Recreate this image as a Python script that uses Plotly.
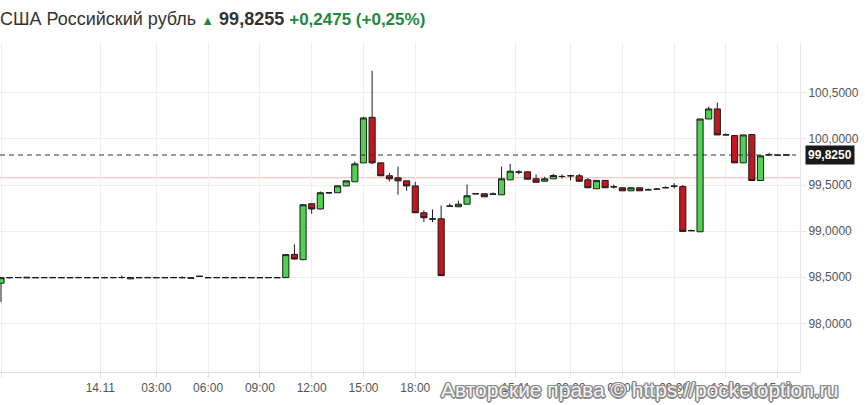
import pandas as pd
import plotly.graph_objects as go

# ---- data (USD/RUB, 30-minute candles starting 13.11 18:00) ----
start_time = "2024-11-13 18:00"
opens = [98.435, 98.495, 98.495, 98.500, 98.495, 98.495, 98.496, 98.495, 98.495, 98.495,
         98.496, 98.495, 98.495, 98.495, 98.496, 98.482, 98.495, 98.495, 98.496, 98.495,
         98.495, 98.496, 98.494, 98.510, 98.495, 98.495, 98.496, 98.495, 98.495, 98.496,
         98.495, 98.495, 98.496, 98.496, 98.748, 98.690, 99.297, 99.240, 99.415, 99.416,
         99.490, 99.535, 99.740, 100.234, 99.740, 99.600, 99.578, 99.545, 99.490, 99.199,
         99.130, 99.134, 99.270, 99.264, 99.292, 99.405, 99.405, 99.400, 99.394, 99.556,
         99.639, 99.643, 99.567, 99.541, 99.567, 99.592, 99.600, 99.600, 99.556, 99.459,
         99.550, 99.480, 99.470, 99.437, 99.470, 99.448, 99.455, 99.470, 99.487, 99.484,
         99.004, 98.993, 100.216, 100.325, 100.043, 100.036, 99.740, 100.047, 99.549, 99.827,
         99.822, 99.825]
highs = [98.500, 98.500, 98.502, 98.502, 98.498, 98.500, 98.505, 98.498, 98.500, 98.505,
         98.500, 98.500, 98.505, 98.500, 98.520, 98.500, 98.500, 98.505, 98.500, 98.500,
         98.505, 98.510, 98.497, 98.512, 98.500, 98.500, 98.505, 98.500, 98.505, 98.500,
         98.500, 98.502, 98.500, 98.750, 98.856, 99.290, 99.300, 99.430, 99.420, 99.495,
         99.548, 99.754, 100.240, 100.739, 99.742, 99.632, 99.700, 99.547, 99.535, 99.224,
         99.235, 99.278, 99.300, 99.330, 99.505, 99.410, 99.407, 99.420, 99.700, 99.730,
         99.660, 99.645, 99.614, 99.590, 99.620, 99.615, 99.610, 99.620, 99.575, 99.552,
         99.552, 99.505, 99.472, 99.472, 99.472, 99.462, 99.468, 99.485, 99.520, 99.500,
         99.016, 100.216, 100.350, 100.393, 100.060, 100.038, 100.045, 100.049, 99.818, 99.850,
         99.832, 99.830]
lows = [98.230, 98.490, 98.492, 98.492, 98.492, 98.492, 98.492, 98.492, 98.492, 98.492,
        98.492, 98.492, 98.490, 98.492, 98.485, 98.480, 98.492, 98.490, 98.492, 98.492,
        98.492, 98.494, 98.488, 98.508, 98.492, 98.490, 98.492, 98.492, 98.492, 98.492,
        98.492, 98.492, 98.490, 98.490, 98.690, 98.688, 99.188, 99.235, 99.410, 99.414,
        99.488, 99.533, 99.738, 99.726, 99.600, 99.538, 99.394, 99.437, 99.199, 99.098,
        99.098, 98.517, 99.268, 99.262, 99.290, 99.400, 99.370, 99.398, 99.392, 99.554,
        99.615, 99.561, 99.525, 99.539, 99.565, 99.570, 99.550, 99.541, 99.470, 99.457,
        99.470, 99.460, 99.437, 99.435, 99.437, 99.446, 99.453, 99.468, 99.462, 98.997,
        99.002, 98.991, 100.214, 100.043, 100.041, 99.740, 99.738, 99.549, 99.547, 99.822,
        99.820, 99.823]
closes = [98.495, 98.495, 98.497, 98.494, 98.495, 98.496, 98.495, 98.495, 98.495, 98.496,
          98.495, 98.495, 98.495, 98.496, 98.497, 98.497, 98.495, 98.496, 98.495, 98.495,
          98.496, 98.495, 98.490, 98.510, 98.495, 98.496, 98.495, 98.495, 98.496, 98.495,
          98.495, 98.496, 98.495, 98.745, 98.697, 99.286, 99.240, 99.416, 99.415, 99.491,
          99.545, 99.729, 100.227, 99.740, 99.600, 99.567, 99.545, 99.490, 99.199, 99.145,
          99.132, 98.517, 99.271, 99.292, 99.383, 99.405, 99.372, 99.402, 99.567, 99.650,
          99.640, 99.563, 99.530, 99.567, 99.603, 99.593, 99.600, 99.541, 99.470, 99.550,
          99.470, 99.481, 99.437, 99.470, 99.437, 99.448, 99.455, 99.471, 99.488, 98.997,
          99.005, 100.216, 100.325, 100.043, 100.044, 99.740, 100.043, 99.549, 99.816, 99.828,
          99.823, 99.8255]

current_price = 99.825
prev_close = 99.578
title_name = "США Российский рубль"
title_price = "99,8255"
title_change = "+0,2475 (+0,25%)"

y_tick_values = [98.0, 98.5, 99.0, 99.5, 100.0, 100.5]
y_tick_labels = ["98,0000", "98,5000", "99,0000", "99,5000", "100,0000", "100,5000"]

x_tick_times = ["2024-11-13 18:00", "2024-11-13 23:45", "2024-11-14 03:00", "2024-11-14 06:00",
                "2024-11-14 09:00", "2024-11-14 12:00", "2024-11-14 15:00", "2024-11-14 18:00",
                "2024-11-14 23:50", "2024-11-15 03:00", "2024-11-15 06:00", "2024-11-15 09:00",
                "2024-11-15 12:00", "2024-11-15 15:00"]
x_tick_labels = ["18:00", "14.11", "03:00", "06:00", "09:00", "12:00", "15:00", "18:00",
                 "15.11", "03:00", "06:00", "09:00", "12:00", "15:00"]

watermark = "Авторские права © https://pocketoption.ru"

times = pd.date_range(start_time, periods=len(opens), freq="30min")

GREEN = "#52d052"
RED = "#c2181d"
OUTLINE = "#1c1c1c"
GRID = "#efefef"

fig = go.Figure()
fig.add_trace(go.Candlestick(
    x=times, open=opens, high=highs, low=lows, close=closes,
    increasing=dict(fillcolor=GREEN, line=dict(color=OUTLINE, width=1)),
    decreasing=dict(fillcolor=RED, line=dict(color=OUTLINE, width=1)),
    whiskerwidth=0, showlegend=False, hoverinfo="x+y",
))

# previous close (pink) and current price (dashed)
fig.add_shape(type="line", xref="paper", x0=0, x1=1, y0=prev_close, y1=prev_close,
              line=dict(color="#f3b8b8", width=1), layer="below")
fig.add_shape(type="line", xref="paper", x0=0, x1=0.995, y0=current_price, y1=current_price,
              line=dict(color="#333333", width=1, dash="5px,4px"))

fig.add_annotation(xref="paper", x=1, xanchor="left", xshift=5, y=current_price, yanchor="middle",
                   text="<b>" + f"{current_price:.4f}".replace(".", ",") + "</b>",
                   showarrow=False, bgcolor="#1a1a1a", borderpad=2,
                   font=dict(family="Liberation Sans, Arial", size=12, color="white"))

# title line
fig.add_annotation(xref="paper", yref="paper", x=0, xanchor="left", y=1.072, yanchor="middle",
                   xshift=-2, showarrow=False, align="left",
                   text=(title_name + " <span style='color:#1f8a3c;font-size:13px'>▲</span> "
                         "<b>" + title_price + "</b> "
                         "<b><span style='color:#1f8a3c;font-size:17px'>" + title_change + "</span></b>"),
                   font=dict(family="Liberation Sans, Arial", size=18, color="#333333"))

# watermark
OUT = "#8c8c8c"
fig.add_annotation(xref="paper", yref="paper", x=0.55, xanchor="left", y=-0.054, yanchor="middle",
                   xshift=-1, showarrow=False, text=watermark,
                   font=dict(family="Liberation Sans, Arial", size=21, color="#f4f4f4",
                             shadow=(f"-1px -1px 0 {OUT}, 1px -1px 0 {OUT}, -1px 1px 0 {OUT}, 1px 1px 0 {OUT}, "
                                     f"0 -1.5px 0 {OUT}, 0 1.5px 0 {OUT}, -1.5px 0 0 {OUT}, 1.5px 0 0 {OUT}")))

x0 = pd.Timestamp(start_time) - pd.Timedelta(minutes=3.5)
x1 = pd.Timestamp(start_time) + pd.Timedelta(minutes=30 * 92.58)

fig.update_layout(
    width=865, height=405,
    margin=dict(l=0, r=65, t=43, b=33),
    paper_bgcolor="white", plot_bgcolor="white",
    font=dict(family="Liberation Sans, Arial", size=12, color="#555555"),
    boxgap=0.05, boxgroupgap=0.25,
    xaxis=dict(
        range=[x0, x1], rangeslider=dict(visible=False),
        tickmode="array", tickvals=list(pd.to_datetime(x_tick_times)), ticktext=x_tick_labels,
        showgrid=True, gridcolor=GRID, gridwidth=1,
        showline=True, linecolor="#e2e2e2", linewidth=1,
        ticks="outside", ticklen=5, tickcolor="#e2e2e2",
        tickfont=dict(size=12, color="#555555"), zeroline=False,
    ),
    yaxis=dict(
        side="right", range=[97.472, 101.04],
        tickmode="array", tickvals=y_tick_values, ticktext=y_tick_labels,
        showgrid=True, gridcolor=GRID, gridwidth=1,
        showline=True, linecolor="#e6e6e6", linewidth=1,
        ticks="outside", ticklen=5, tickcolor="#e6e6e6",
        tickfont=dict(size=12, color="#555555"), zeroline=False,
    ),
)

fig.write_html("out.html", config={"displayModeBar": False},
               post_script="document.body.style.margin='0px';")
